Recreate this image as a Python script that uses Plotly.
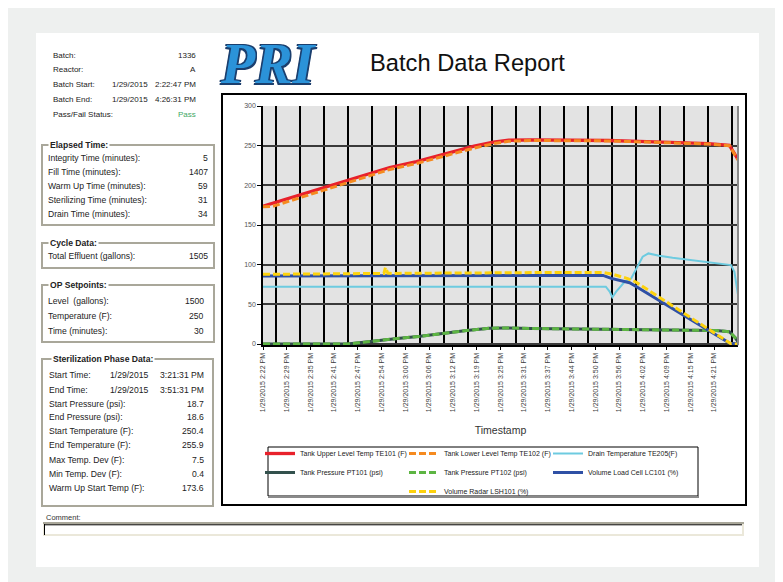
import plotly.graph_objects as go
import pandas as pd

W, H = 783, 582
OFF = 8  # page body margin in the screenshot
def X(px): return (px - OFF) / W
def Y(py): return 1 - (py - OFF) / H

# ---------------- report header / side panel data ----------------
hdr_labels = ["Batch:", "Reactor:", "Batch Start:", "Batch End:", "Pass/Fail Status:"]
hdr_dates = ["", "", "1/29/2015", "1/29/2015", ""]
hdr_values = ["1336", "A", "2:22:47 PM", "4:26:31 PM", "Pass"]

elapsed_labels = ["Integrity Time (minutes):", "Fill Time (minutes):", "Warm Up Time (minutes):",
                  "Sterilizing Time (minutes):", "Drain Time (minutes):"]
elapsed_values = ["5", "1407", "59", "31", "34"]

cycle_labels = ["Total Effluent (gallons):"]
cycle_values = ["1505"]

op_labels = ["Level  (gallons):", "Temperature (F):", "Time (minutes):"]
op_values = ["1500", "250", "30"]

ster_labels = ["Start Time:", "End Time:", "Start Pressure (psi):", "End Pressure (psi):",
               "Start Temperature (F):", "End Temperature (F):", "Max Temp. Dev (F):",
               "Min Temp. Dev (F):", "Warm Up Start Temp (F):"]
ster_dates = ["1/29/2015", "1/29/2015", "", "", "", "", "", "", ""]
ster_values = ["3:21:31 PM", "3:51:31 PM", "18.7", "18.6", "250.4", "255.9", "7.5", "0.4", "173.6"]

# ---------------- chart data (minutes after batch start) ----------------
batch_start = "2015-01-29 14:22:47"
batch_end = "2015-01-29 16:26:31"

tick_labels = ["1/29/2015 2:22 PM", "1/29/2015 2:29 PM", "1/29/2015 2:35 PM", "1/29/2015 2:41 PM",
               "1/29/2015 2:47 PM", "1/29/2015 2:54 PM", "1/29/2015 3:00 PM", "1/29/2015 3:06 PM",
               "1/29/2015 3:12 PM", "1/29/2015 3:19 PM", "1/29/2015 3:25 PM", "1/29/2015 3:31 PM",
               "1/29/2015 3:37 PM", "1/29/2015 3:44 PM", "1/29/2015 3:50 PM", "1/29/2015 3:56 PM",
               "1/29/2015 4:02 PM", "1/29/2015 4:09 PM", "1/29/2015 4:15 PM", "1/29/2015 4:21 PM"]

te101_t = [0, 5, 10, 15, 20, 25, 30, 33, 40, 45, 50, 55, 60, 64, 70, 80, 90, 100, 110, 116, 121.5, 123.7]
te101_v = [173.6, 181, 189, 196, 203.5, 211, 219, 222.5, 230, 236.5, 243, 249.5, 254.5, 256.8, 257.3,
           257, 256.5, 255, 253.5, 252.5, 250.5, 233]

te102_t = [0, 2.5, 10, 15, 20, 25, 30, 33, 40, 45, 50, 55, 60, 64, 70, 80, 90, 100, 110, 116, 121.5, 123.7]
te102_v = [173, 173.5, 185, 192.5, 200, 207.5, 215.5, 220, 227.5, 234, 240.5, 247, 252.5, 255.5, 256.5,
           256.5, 256, 254.5, 253, 252, 250, 232]

te205_t = [0, 30, 60, 89.3, 90.3, 91.0, 92.0, 94.2, 95.9, 97.2, 98.9, 100.4, 103.2, 106.7, 113.7,
           118.9, 121.9, 122.8, 123.7]
te205_v = [72.3, 72.3, 72.3, 72.3, 66, 59, 66, 78.5, 82.7, 95.3, 110, 114.2, 111.3, 108.7, 104.5,
           101.6, 99.5, 91, 63]

pt_t = [0, 22, 25, 30, 35, 41, 47, 53, 59, 63, 70, 80, 90, 100, 110, 118, 121.5, 123, 123.7]
pt101_v = [0, 0, 1.5, 4.5, 7, 9.7, 13.5, 17, 19.8, 20.2, 19.6, 19, 18.6, 18.2, 17.6, 17, 15.5, 8, 3]
pt102_v = [0, 0, 1.5, 4.5, 7, 9.7, 13.5, 17, 19.8, 20.2, 19.6, 19, 18.6, 18.2, 17.6, 17, 15.5, 8, 3]

lc101_t = [0, 30, 60, 88.6, 90.7, 93, 95.5, 97.3, 103, 109.5, 115, 121.6, 123.7]
lc101_v = [85.6, 85.8, 86.3, 86.5, 82.7, 80.5, 77.2, 72.2, 55.3, 36.5, 20.2, 0.8, 0.5]

lsh101_t = [0, 10, 20, 30, 31.5, 31.9, 32.5, 33.5, 40, 50, 60, 70, 80, 88.6, 91, 95, 97, 103, 109.5,
            115, 122, 123.7]
lsh101_v = [87.8, 87.9, 88.3, 88.7, 89, 96.5, 89.5, 89, 89.3, 89.6, 89.8, 90, 90, 90.3, 88, 82.5,
            78.5, 59.5, 38.5, 21.5, 0, 0]

# ---------------- build figure ----------------
t0 = pd.Timestamp(batch_start)
t1 = pd.Timestamp(batch_end)
def ts(mins):
    return [t0 + pd.Timedelta(minutes=m) for m in mins]

span = (t1 - t0) / 20
tick_vals = [t0 + span * k for k in range(len(tick_labels))]
grid_vals = [t0 + pd.Timedelta(minutes=3.4 + 6.25 * k) for k in range(20)]

FONT = "Liberation Sans, Arial, sans-serif"
DASH = "7px,3px"
PF = 8.6  # side panel box font size
HF = 8.0  # header font size

fig = go.Figure()
series = [
    ("Tank Upper Level Temp TE101 (F)", te101_t, te101_v, "#e8212b", None, 3.3, "g1"),
    ("Tank Lower Level Temp TE102 (F)", te102_t, te102_v, "#f58a1f", DASH, 3, "g2"),
    ("Drain Temperature TE205(F)", te205_t, te205_v, "#6dcbe0", None, 2, "g3"),
    ("Tank Pressure PT101 (psi)", pt_t, pt101_v, "#33514d", None, 3, "g1"),
    ("Tank Pressure PT102 (psi)", pt_t, pt102_v, "#5db543", DASH, 3, "g2"),
    ("Volume Load Cell LC101 (%)", lc101_t, lc101_v, "#2f50a5", None, 3, "g3"),
    ("Volume Radar LSH101 (%)", lsh101_t, lsh101_v, "#fdd20e", DASH, 3, "g2"),
]
for name, t, v, col, dash, w, grp in series:
    fig.add_trace(go.Scatter(
        x=ts(t), y=v, name=name, mode="lines", legendgroup=grp,
        line=dict(color=col, width=w, dash=dash)))

shapes = []
def rect(x0, y0, x1, y1, color, width=1, fill=None, layer="below"):
    shapes.append(dict(type="rect", xref="paper", yref="paper", x0=X(x0), x1=X(x1), y0=Y(y0), y1=Y(y1),
                       line=dict(color=color, width=width), fillcolor=fill, layer=layer))
def hline(x0, x1, y, color, width=1, layer="below"):
    shapes.append(dict(type="line", xref="paper", yref="paper", x0=X(x0), x1=X(x1), y0=Y(y), y1=Y(y),
                       line=dict(color=color, width=width), layer=layer))
def vline(x, y0, y1, color, width=1, layer="below"):
    shapes.append(dict(type="line", xref="paper", yref="paper", x0=X(x), x1=X(x), y0=Y(y0), y1=Y(y1),
                       line=dict(color=color, width=width), layer=layer))

# white report page
rect(36, 33, 759, 567, "rgba(0,0,0,0)", 0, "#ffffff")
# chart frame
rect(222, 94, 746, 505, "#000000", 2, "#ffffff")
# plot background
shapes.append(dict(type="rect", xref="x domain", yref="y domain", x0=0, x1=1, y0=0, y1=1,
                   line=dict(width=0), fillcolor="#e3e3e3", layer="below"))
# right border of plot
shapes.append(dict(type="line", xref="x domain", yref="y domain", x0=1, x1=1, y0=0, y1=1,
                   line=dict(color="#8a8a8a", width=2), layer="above"))
# legend frame
rect(268, 447, 698, 496, "#000000", 1, "#ffffff")
hline(268, 699, 497, "#8a8a8a", 2)
# group boxes
BOX = "#a9a79a"
rect(42, 145, 214, 225, BOX, 2)
rect(42, 243, 214, 268, BOX, 2)
rect(42, 285, 214, 342, BOX, 2)
rect(42, 359, 213, 506, BOX, 2)
# comment box
rect(44, 524, 743, 535, "#ebe8da", 2, "#ffffff")
hline(43, 744, 523, BOX, 2)
hline(44, 742, 524.8, "#000000", 1)
vline(44.5, 524, 535, "#000000", 1)

ann = []
def txt(x, y, s, anchor="left", size=PF, color="#222222", bg=None, bold=False, family=FONT):
    a = dict(xref="paper", yref="paper", x=X(x), y=Y(y), text=s, showarrow=False,
             xanchor=anchor, yanchor="middle", font=dict(family=family, size=size, color=color))
    if bold:
        a["font"]["weight"] = "bold"
    if bg:
        a["bgcolor"] = bg
        a["borderpad"] = 1
    ann.append(a)

hdr_y = [55, 69.5, 84.5, 99.5, 114]
for lab, d, v, y in zip(hdr_labels, hdr_dates, hdr_values, hdr_y):
    txt(51, y, lab, size=HF)
    if d:
        txt(150, y, d, "right", size=HF)
    txt(198, y, v, "right", size=HF, color="#3ea865" if v == "Pass" else "#222222")

txt(48, 145, "Elapsed Time:", bold=True, bg="#ffffff")
for lab, v, y in zip(elapsed_labels, elapsed_values, [157.5, 172, 186, 200, 213.5]):
    txt(46, y, lab)
    txt(210, y, v, "right")

txt(48, 243, "Cycle Data:", bold=True, bg="#ffffff")
for lab, v, y in zip(cycle_labels, cycle_values, [256]):
    txt(46, y, lab)
    txt(210, y, v, "right")

txt(48, 285, "OP Setpoints:", bold=True, bg="#ffffff")
for lab, v, y in zip(op_labels, op_values, [300.5, 316, 331]):
    txt(46, y, lab)
    txt(206, y, v, "right")

txt(51, 359, "Sterilization Phase Data:", bold=True, bg="#ffffff")
ster_y = [375, 389.5, 403.5, 417, 431, 445, 459.5, 473.5, 488]
for lab, d, v, y in zip(ster_labels, ster_dates, ster_values, ster_y):
    txt(47, y, lab)
    if d:
        txt(150, y, d, "right")
    txt(206, y, v, "right")

txt(44, 517, "Comment:", size=7.5, color="#333333")

# title and logo
txt(368, 63, "Batch Data Report", size=23.7, color="#111111")
ann.append(dict(xref="paper", yref="paper", x=X(268), y=Y(64), text="<b><i>PRI</i></b>", showarrow=False,
                xanchor="center", yanchor="middle",
                font=dict(family="Liberation Serif, serif", size=56, color="#2b93d9",
                          shadow="1.5px 1.5px 0 #1b3f6e, -1.5px -1.5px 0 #1b3f6e, 1.5px -1.5px 0 #1b3f6e, -1.5px 1.5px 0 #1b3f6e")))

fig.update_layout(
    width=W, height=H, autosize=False,
    margin=dict(l=0, r=0, t=0, b=0),
    paper_bgcolor="#eef0ef", plot_bgcolor="#e3e3e3",
    font=dict(family=FONT, size=8, color="#333333"),
    shapes=shapes, annotations=ann,
    showlegend=True,
    legend=dict(orientation="h", traceorder="grouped", x=X(260), y=Y(439), xanchor="left", yanchor="top",
                bgcolor="rgba(0,0,0,0)", borderwidth=0, entrywidth=99, tracegroupgap=0,
                font=dict(family=FONT, size=7, color="#222222")),
    xaxis=dict(domain=[X(263), X(738)], range=[t0, t1], type="date",
               tickmode="array", tickvals=tick_vals, ticktext=tick_labels, tickangle=-90,
               tickfont=dict(size=7, color="#404040"), ticks="outside", ticklen=3, tickcolor="#000000",
               showgrid=False, showline=True, linecolor="#000000", linewidth=2, zeroline=False,
               automargin=False,
               minor=dict(tickmode="array", tickvals=grid_vals, showgrid=True, gridcolor="#000000",
                          gridwidth=2, ticks=""),
               title=dict(text="Timestamp", font=dict(size=10.5, color="#333333"), standoff=15)),
    yaxis=dict(domain=[Y(345.2), Y(106)], range=[-1.5, 300], tickmode="array",
               tickvals=[0, 50, 100, 150, 200, 250, 300],
               tickfont=dict(size=7, color="#555555"), ticks="outside", ticklen=4, tickcolor="#000000",
               showgrid=True, gridcolor="#3a3a3a", gridwidth=1.5, zeroline=False,
               showline=True, linecolor="#000000", linewidth=1.5, automargin=False),
)

fig.write_html("out.html")
